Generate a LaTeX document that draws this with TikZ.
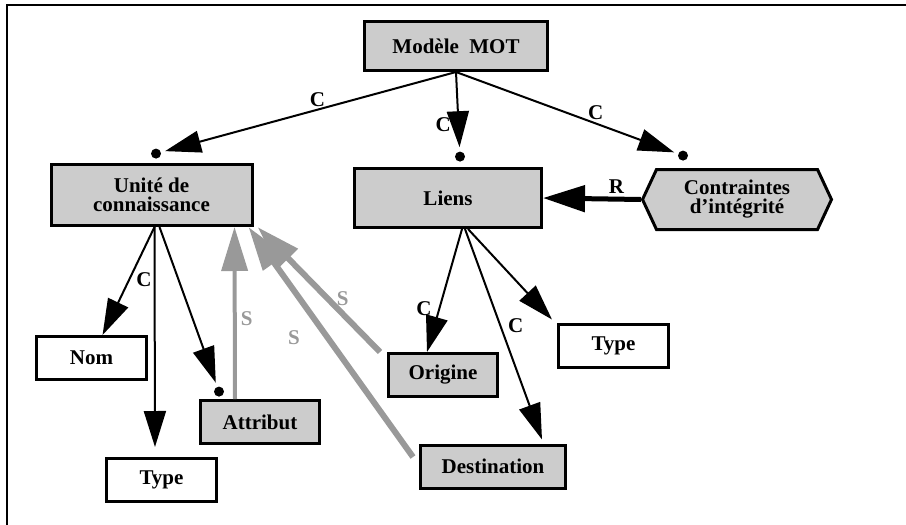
\documentclass[tikz,border=0pt]{standalone}
\usepackage{fontspec}
\setmainfont{Liberation Serif}
\usepackage{tikz}
\usetikzlibrary{positioning, arrows.meta, shapes.symbols}
\tikzset{
    >={Triangle[length=18pt,width=11pt]},                 % Big filled arrow heads
    every node/.style={font=\bfseries\fontsize{10.5}{9.5}\selectfont}, % Bold serif text everywhere
    box/.style={draw, line width=1.5pt, fill=black!20, align=center}, % Grey concept boxes
    leaf/.style={box, fill=white, minimum width=55pt, minimum height=21.5pt}, % White small boxes
    grayleaf/.style={leaf, fill=black!20},                % Grey small boxes
    dot/.style={circle, fill=black, inner sep=0pt, minimum size=5pt}, % Black dot at arrow ends
    carrow/.style={->, line width=1pt},                   % Composition links
    rarrow/.style={-{Triangle[length=21pt,width=13pt]}, line width=2.5pt}, % Rule link
    sarrow/.style={-{Triangle[length=22pt,width=13pt]}, draw=black!40, fill=black!40, line width=3pt}, % Specialisation links
    slabel/.style={text=black!40}                         % Grey S labels
}

\begin{document}
\begin{tikzpicture}[x=0.5pt, y=-0.5pt]
    \useasboundingbox (0,0) rectangle (906,525);
    \draw[line width=1.2pt] (906,5) -- (7,5) -- (7,525);

    \node[box, minimum width=91.5pt, minimum height=24.5pt] (mot) at (456,46) {Modèle\ \ MOT};
    \node[box, minimum width=100.5pt, minimum height=30.5pt] (udc) at (151.5,195) {Unité de\\connaissance};
    \node[box, minimum width=93.5pt, minimum height=29.5pt] (liens) at (448,198) {Liens};
    \node[box, signal, signal to=west and east, signal pointer angle=130,
          minimum width=94.5pt, minimum height=30pt] (contr) at (737,199.5) {Contraintes\\d’intégrité};
    \node[leaf] (nom) at (91.5,358) {Nom};
    \node[leaf] (type1) at (161.5,480) {Type};
    \node[grayleaf, minimum width=59.5pt] (attr) at (260,422) {Attribut};
    \node[grayleaf, minimum width=54.5pt] (orig) at (443,375) {Origine};
    \node[grayleaf, minimum width=72.5pt] (dest) at (493,466.5) {Destination};
    \node[leaf] (type2) at (613.5,345.5) {Type};

    \node[dot, above=2pt of udc.north, xshift=2.25pt] (dudc) {};
    \node[dot, above=2.5pt of liens.north, xshift=6pt] (dliens) {};
    \node[dot, above=3.5pt of contr.north, xshift=-27pt] (dcontr) {};
    \node[dot, above=1pt of attr.north, xshift=-20.5pt] (dattr) {};

    \path[carrow, shorten >=2pt]
        (mot.south) edge node[above, pos=0.47, inner sep=1pt] {C} (dudc)
        (mot.south) edge node[left, pos=0.67] {C} (dliens)
        (mot.south) edge node[above, pos=0.63, inner sep=1.5pt] {C} (dcontr)
        ([xshift=1.5pt]udc.south) edge[shorten >=0pt] (nom)
        ([xshift=1.5pt]udc.south) edge[shorten >=5pt] node[left, pos=0.23, inner sep=1pt] {C} ([xshift=-3.25pt]type1.north)
        ([xshift=4pt]udc.south) edge (dattr)
        ([xshift=7pt]liens.south) edge[shorten >=0pt] node[left, pos=0.65] {C} ([xshift=-8pt]orig.north)
        ([xshift=8.5pt]liens.south) edge[shorten >=0pt] node[right, pos=0.46] {C} ([xshift=24.5pt, yshift=2pt]dest.north)
        ([xshift=10pt]liens.south) edge[shorten >=0pt] ([shift={(-2.5pt,1.5pt)}]type2.north west);

    \draw[rarrow] (contr.west) -- node[above, pos=0.25, inner sep=1.5pt] {R} (liens.east);

    \draw[sarrow, line width=2pt] ([xshift=-12.5pt]attr.north) -- node[right, pos=0.47, inner sep=2pt, slabel] {S} ([xshift=41.5pt]udc.south);
    \draw[sarrow] ([xshift=-3.5pt]orig.north west) -- node[right, pos=0.43, slabel] {S} ([xshift=2pt]udc.south east);
    \draw[sarrow] ([shift={(-3pt,4.75pt)}]dest.west) -- node[left=9pt, pos=0.52, slabel] {S} ([xshift=-2.5pt]udc.south east);
\end{tikzpicture}
\end{document}
